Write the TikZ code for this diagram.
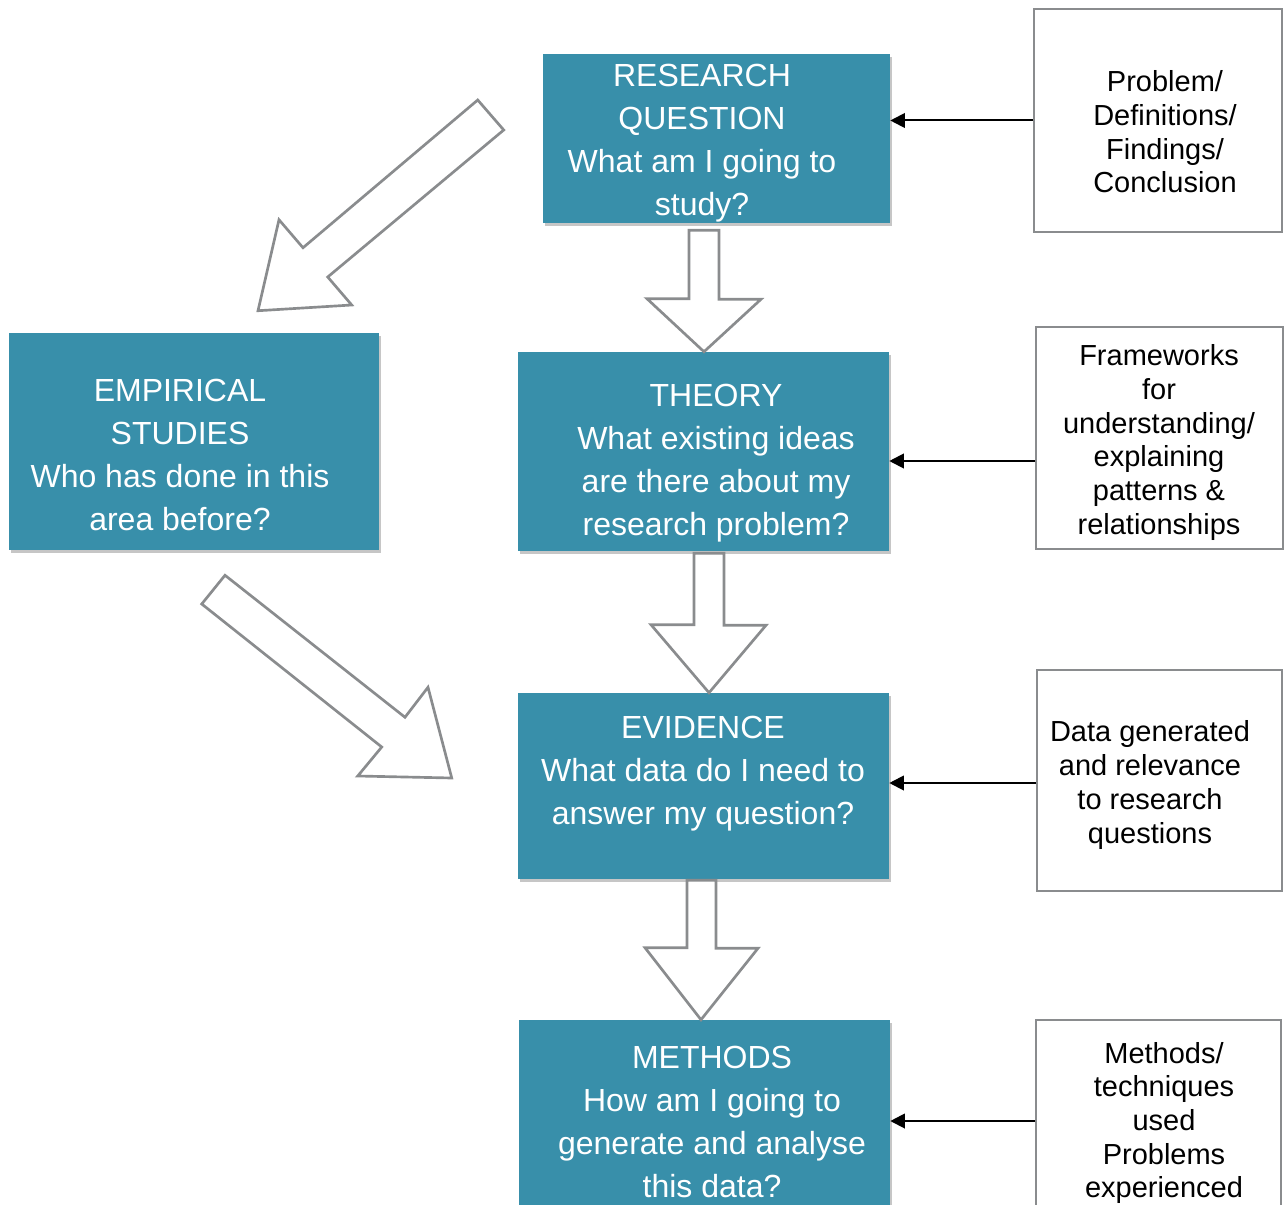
\documentclass[tikz,border=0pt]{standalone}
\usepackage{fontspec}
\setmainfont{Liberation Sans}
\usepackage{xcolor}
\usepackage{tikz}
\usetikzlibrary{positioning,calc,shadows,arrows.meta}

\definecolor{boxteal}{RGB}{56,143,170}
\definecolor{edgegray}{RGB}{138,140,142}

\tikzset{
  tealbox/.style={rectangle, fill=boxteal, draw=none, inner sep=0pt,
    drop shadow={shadow xshift=1.2pt, shadow yshift=-2pt, opacity=.45}},
  notebox/.style={rectangle, draw=edgegray, line width=1.5pt, fill=white, inner sep=0pt},
  boxtext/.style={text=white, align=center, inner sep=0pt, font=\fontsize{24}{32.2}\selectfont},
  notetext/.style={text=black, align=center, inner sep=0pt, font=\fontsize{21.75}{25.3}\selectfont},
  hollow/.style={draw=edgegray, line width=2pt, fill=white, line join=miter},
  feed/.style={draw=black, line width=1.5pt, -{Triangle[length=11pt,width=11pt]}}
}

\begin{document}
\begin{tikzpicture}[x=0.75pt,y=-0.75pt]
    \useasboundingbox (0,0) rectangle (1284,1205);
    \clip (0,0) rectangle (1284,1205);

    % Main boxes
    \node[tealbox, minimum width=260.25pt, minimum height=126.75pt] (rq) at (716.5,138.5) {};
    \node[tealbox, minimum width=278.25pt, minimum height=149.25pt] (theory) at (703.5,451.5) {};
    \node[tealbox, minimum width=277.5pt, minimum height=162.75pt] (empirical) at (194,441.5) {};
    \node[tealbox, minimum width=278.25pt, minimum height=139.5pt] (evidence) at (703.5,786) {};
    \node[tealbox, minimum width=278.25pt, minimum height=153.75pt] (methods) at (704.5,1122.5) {};

    \node[boxtext] (rqtext) at (702,143) {RESEARCH\\QUESTION\\What am I going to\\study?};
    \node[boxtext] (theorytext) at (716,463) {THEORY\\What existing ideas\\are there about my\\research problem?};
    \node[boxtext] (emptext) at (180,455) {EMPIRICAL\\STUDIES\\Who has done in this\\area before?};
    \node[boxtext] (evtext) at (703,774) {EVIDENCE\\What data do I need to\\answer my question?};
    \node[boxtext] (methtext) at (712,1122) {METHODS\\How am I going to\\generate and analyse\\this data?};

    % Side notes
    \node[notebox, minimum width=186pt, minimum height=167.25pt] (prob) at (1158,120.5) {};
    \node[notebox, minimum width=185.25pt, minimum height=166.5pt] (frame) at (1159.5,438) {};
    \node[notebox, minimum width=183.75pt, minimum height=165.75pt] (data) at (1159.5,780.5) {};
    \node[notebox, minimum width=183.75pt, minimum height=153.75pt] (meth) at (1158.5,1122.5) {};

    \node[notetext] (probtext) at (1165,132) {Problem/\\Definitions/\\Findings/\\Conclusion};
    \node[notetext] (frametext) at (1159,442.5) {Frameworks\\for\\understanding/\\explaining\\patterns \&\\relationships};
    \node[notetext] (datatext) at (1150,785) {Data generated\\and relevance\\to research\\questions};
    \node[notetext] (methodstext) at (1164,1123) {Methods/\\techniques\\used\\Problems\\experienced};

    % Feedback arrows
    \draw[feed] (prob.west) -- (rq.east |- prob.west);
    \draw[feed] (frame.west) ++(0,23) coordinate (f2) -- (theory.east |- f2);
    \draw[feed] (data.west) ++(0,2.5) coordinate (f3) -- (evidence.east |- f3);
    \draw[feed] (meth.west) ++(0,-1.5) coordinate (f4) -- (methods.east |- f4);

    % Block arrows down the middle
    \draw[hollow] ($(rq.south)+(-27.5,7)$) -- ++(30,0) -- ++(0,69) -- ++(42,0)
        -- ($(theory.north)+(0.5,0)$) -- ++(-57,-53) -- ++(42,0) -- cycle;
    \draw[hollow] ($(theory.south)+(-9.5,2)$) -- ++(30,0) -- ++(0,72) -- ++(42,0)
        -- ($(evidence.north)+(5.5,0)$) -- ++(-58,-68) -- ++(43,0) -- cycle;
    \draw[hollow] ($(evidence.south)+(-16.5,1)$) -- ++(29,0) -- ++(0,68) -- ++(42,0)
        -- ($(methods.north)+(-3.5,0)$) -- ++(-56,-72) -- ++(42,0) -- cycle;

    % Block arrows via empirical studies
    \draw[hollow] ($(rq.west)+(-65,-38.5)$) -- ++(26,30) -- ++(-176,147) -- ++(24,28)
        -- ($(empirical.north)+(64,-22)$) -- ++(21,-91) -- ++(24,28) -- cycle;
    \draw[hollow] ($(empirical.south)+(31,25)$) -- ++(180,142) -- ++(23,-30)
        -- ($(evidence.west)+(-66,-8)$) -- ++(-94,-2) -- ++(24,-29) -- ++(-180,-143) -- cycle;
\end{tikzpicture}
\end{document}
